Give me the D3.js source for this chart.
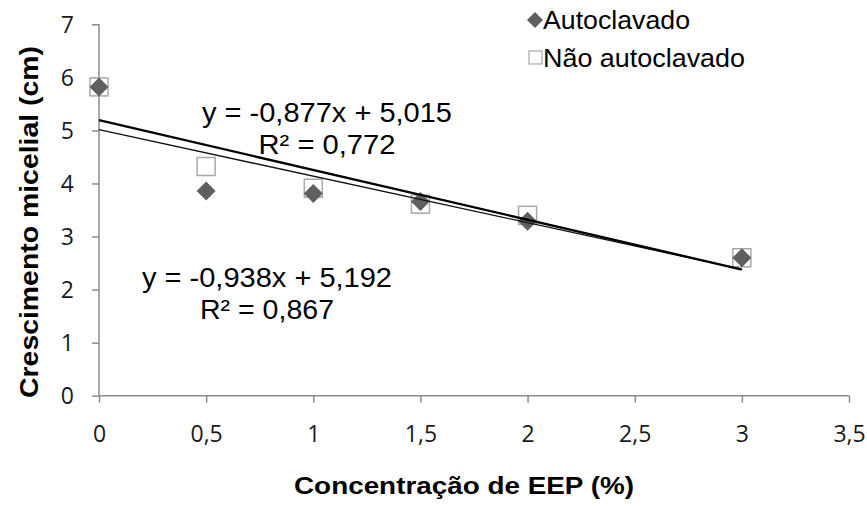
<!DOCTYPE html>
<html>
<head>
<meta charset="utf-8">
<script src="https://cdn.jsdelivr.net/npm/d3@7"></script>
<style>
  html, body { margin: 0; padding: 0; background: #fff; }
  svg { display: block; }
</style>
</head>
<body>
<svg id="chart" width="867" height="510"></svg>
<script>
// EEP concentration (%) tested
const concentrations = [0, 0.5, 1, 1.5, 2, 3];
// Mycelial growth (cm) per treatment
const autoclavado = [5.82, 3.86, 3.81, 3.66, 3.29, 2.60];
const naoAutoclavado = [5.82, 4.32, 3.91, 3.61, 3.40, 2.60];
// Linear trendlines: [slope, intercept, R²]
const trendAutoclavado = [-0.877, 5.015, 0.772];
const trendNaoAutoclavado = [-0.938, 5.192, 0.867];
const xTicks = [0, 0.5, 1, 1.5, 2, 2.5, 3, 3.5];
const yTicks = [0, 1, 2, 3, 4, 5, 6, 7];
const seriesNames = ["Autoclavado", "Não autoclavado"];

const svg = d3.select("#chart");
const axisColor = "#8c8c8c";
const fmt = v => String(v).replace(".", ",");

const x = d3.scaleLinear().domain([0, 3.5]).range([99, 849]);
const y = d3.scaleLinear().domain([0, 7]).range([395.7, 24.3]);

// Y axis
const yAxis = svg.append("g")
  .attr("transform", `translate(${x(0)},0)`)
  .call(d3.axisLeft(y).tickValues(yTicks).tickSize(7).tickPadding(18).tickFormat(fmt));
// X axis
const xAxis = svg.append("g")
  .attr("transform", `translate(0,${y(0)})`)
  .call(d3.axisBottom(x).tickValues(xTicks).tickSize(7).tickPadding(23).tickFormat(fmt));

[yAxis, xAxis].forEach(g => {
  g.attr("font-size", null).attr("font-family", null);
  g.select(".domain").attr("stroke", axisColor).attr("stroke-width", 1.5);
  g.selectAll(".tick line").attr("stroke", axisColor).attr("stroke-width", 1.5);
  g.selectAll(".tick text")
    .attr("fill", "#1a1a1a")
    .style("font-family", "'Open Sans', sans-serif")
    .style("font-size", "23px");
});
yAxis.select(".domain").attr("d", `M0,${y(7)}V${y(0)}`);
yAxis.selectAll(".tick text").attr("dy", "0.36em");
xAxis.select(".domain").attr("d", `M${x(0)},0H${x(3.5)}`);

// Markers: squares first, diamonds drawn over them
const pts = concentrations.map((c, i) => ({ c, a: autoclavado[i], n: naoAutoclavado[i] }));
const sq = 18;
svg.append("g").selectAll("rect").data(pts).join("rect")
  .attr("x", d => x(d.c) - sq / 2)
  .attr("y", d => y(d.n) - sq / 2)
  .attr("width", sq).attr("height", sq)
  .attr("fill", "#fff").attr("stroke", "#a9a9a9").attr("stroke-width", 1.5);

const diamond = (cx, cy, r) => `M${cx},${cy - r}L${cx + r},${cy}L${cx},${cy + r}L${cx - r},${cy}Z`;
svg.append("g").selectAll("path").data(pts).join("path")
  .attr("d", d => diamond(x(d.c), y(d.a), 9.5))
  .attr("fill", "#5f5f5f");

// Trendlines over the data range
const line = d3.line().x(d => x(d[0])).y(d => y(d[1]));
const xr = d3.extent(concentrations);
const trendPts = t => xr.map(v => [v, t[0] * v + t[1]]);
svg.append("path").attr("d", line(trendPts(trendAutoclavado)))
  .attr("stroke", "#111").attr("stroke-width", 1.3).attr("fill", "none");
svg.append("path").attr("d", line(trendPts(trendNaoAutoclavado)))
  .attr("stroke", "#000").attr("stroke-width", 2.3).attr("fill", "none");

// Trendline equations
const eqText = t => `y = ${fmt(t[0])}x + ${fmt(t[1])}`;
const r2Text = t => `R² = ${fmt(t[2])}`;
function label(cx, y1, y2, t, w1, w2) {
  const g = svg.append("g")
    .style("font-family", "'Liberation Sans', Arial, sans-serif")
    .style("font-size", "28px").attr("fill", "#000").attr("text-anchor", "middle");
  g.append("text").attr("x", cx).attr("y", y1).text(eqText(t))
    .attr("textLength", w1).attr("lengthAdjust", "spacingAndGlyphs");
  g.append("text").attr("x", cx).attr("y", y2).text(r2Text(t))
    .attr("textLength", w2).attr("lengthAdjust", "spacingAndGlyphs");
}
label(327, 121.5, 154, trendAutoclavado, 250, 137);
label(267, 286.5, 319, trendNaoAutoclavado, 250, 134);

// Legend
const lg = svg.append("g")
  .style("font-family", "'Liberation Sans', Arial, sans-serif")
  .style("font-size", "26px").attr("fill", "#000");
lg.append("path").attr("d", diamond(535, 20, 8)).attr("fill", "#5f5f5f");
lg.append("rect").attr("x", 529).attr("y", 51).attr("width", 13).attr("height", 13)
  .attr("fill", "#fff").attr("stroke", "#a9a9a9").attr("stroke-width", 1.2);
lg.append("text").attr("x", 543).attr("y", 29).text(seriesNames[0])
  .attr("textLength", 147).attr("lengthAdjust", "spacingAndGlyphs");
lg.append("text").attr("x", 543).attr("y", 67).text(seriesNames[1])
  .attr("textLength", 202).attr("lengthAdjust", "spacingAndGlyphs");

// Axis titles
svg.append("text")
  .attr("x", 464).attr("y", 494).attr("text-anchor", "middle")
  .style("font-family", "'Liberation Sans', Arial, sans-serif")
  .style("font-size", "24px").style("font-weight", "bold").attr("fill", "#000")
  .attr("textLength", 340).attr("lengthAdjust", "spacingAndGlyphs")
  .text("Concentração de EEP (%)");
svg.append("text")
  .attr("transform", "translate(38,222) rotate(-90)").attr("text-anchor", "middle")
  .style("font-family", "'Liberation Sans', Arial, sans-serif")
  .style("font-size", "25px").style("font-weight", "bold").attr("fill", "#000")
  .attr("textLength", 352).attr("lengthAdjust", "spacingAndGlyphs")
  .text("Crescimento micelial (cm)");
</script>
</body>
</html>
